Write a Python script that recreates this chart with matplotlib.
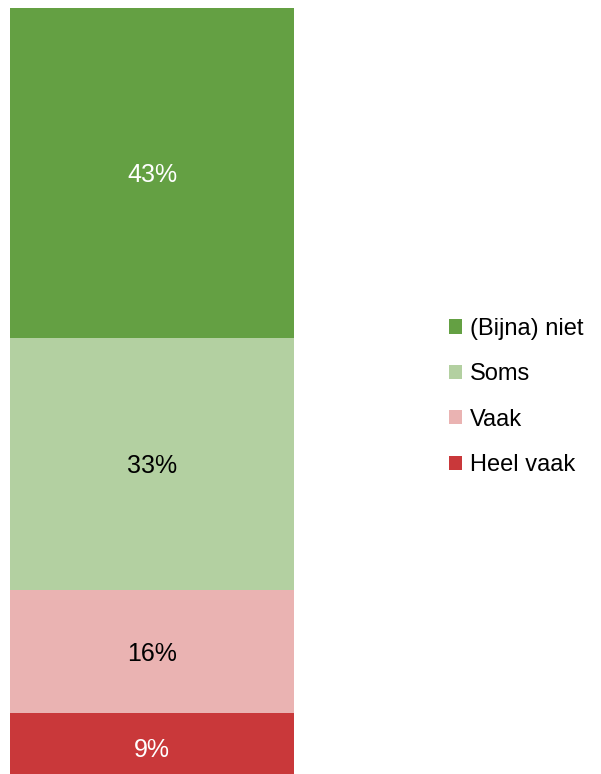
import matplotlib.pyplot as plt

plt.rcParams['font.family'] = ['Liberation Sans', 'DejaVu Sans']

categories = ['Heel vaak', 'Vaak', 'Soms', '(Bijna) niet']
values = [9, 16, 33, 43]
colors = ['#C9383A', '#EAB3B2', '#B3D0A1', '#64A043']
text_colors = ['white', 'black', 'black', 'white']

fig = plt.figure(figsize=(6.01, 7.74), dpi=100)
W, H = 601, 774
# bar runs past the bottom edge, like the reference
ax = fig.add_axes([10 / W, 1 - 782 / H, 284 / W, 774 / H])

bottom = 0
handles = []
for cat, v, c, tc in zip(categories, values, colors, text_colors):
    b = ax.bar(0, v, bottom=bottom, width=1, color=c, label=cat)
    ax.text(0, bottom + v / 2, f'{v}%', ha='center', va='center_baseline',
            color=tc, fontsize=18)
    handles.append(b)
    bottom += v

ax.set_xlim(-0.5, 0.5)
ax.set_ylim(0, sum(values))
ax.axis('off')

fig.legend(handles[::-1], categories[::-1], loc='center left',
           bbox_to_anchor=(440 / W, 1 - 397 / H), frameon=False,
           fontsize=17, handlelength=0.55, handleheight=0.55,
           handletextpad=0.3, labelspacing=0.99, borderaxespad=0)

fig.savefig('out.png', dpi=100)
